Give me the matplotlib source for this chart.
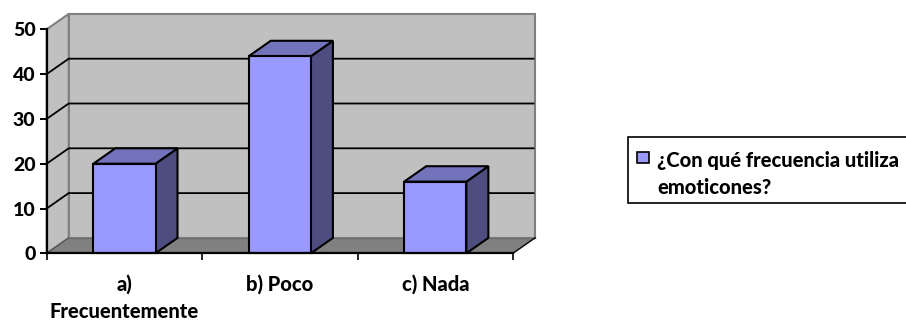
import matplotlib

matplotlib.use("Agg")
import matplotlib.pyplot as plt
from matplotlib.patches import Polygon, Rectangle

categories = ["a)\nFrecuentemente", "b) Poco", "c) Nada"]
values = [20, 44, 16]
y_ticks = [0, 10, 20, 30, 40, 50]
legend_label = "¿Con qué frecuencia utiliza\nemoticones?"

FRONT = "#9999FF"
TOP = "#7373BC"
SIDE = "#4D4D80"
WALL = "#C0C0C0"
FLOOR = "#808080"

W, H = 906, 320
LEFT, RIGHT, BOTTOM, UPPER = 46.7, 513, 253.3, 29.3

# depth of the fake 3D box, in data units
DX = 22 / ((RIGHT - LEFT) / 3)
DY = 15.4 / ((BOTTOM - UPPER) / 50)
BAR_W = 0.4

plt.rcParams["font.family"] = ["Lato", "DejaVu Sans"]
plt.rcParams["font.weight"] = "black"

fig = plt.figure(figsize=(W / 100, H / 100), dpi=100)
ax = fig.add_axes(
    [LEFT / W, 1 - BOTTOM / H, (RIGHT - LEFT) / W, (BOTTOM - UPPER) / H]
)
ax.set_xlim(0, 3)
ax.set_ylim(0, 50)
ax.patch.set_visible(False)


def poly(points, face, edge="none", lw=0.0, z=1):
    ax.add_patch(
        Polygon(
            points,
            closed=True,
            facecolor=face,
            edgecolor=edge,
            linewidth=lw,
            joinstyle="miter",
            clip_on=False,
            zorder=z,
        )
    )


# walls and floor
poly([(DX, DY), (3 + DX, DY), (3 + DX, 50 + DY), (DX, 50 + DY)], WALL, FLOOR, 1.5)
poly([(0, 0), (DX, DY), (DX, 50 + DY), (0, 50)], WALL, FLOOR, 1.5)
poly([(0, 0), (3, 0), (3 + DX, DY), (DX, DY)], FLOOR)
ax.plot([DX, 3 + DX], [DY, DY], color="#6E6E6E", lw=1.0, clip_on=False, zorder=1.5)
ax.plot([3, 3 + DX], [0, DY], color="black", lw=1.0, clip_on=False, zorder=1.5)
ax.plot([0, DX], [0, DY], color="#505050", lw=0.8, clip_on=False, zorder=1.5)

# gridlines run along the side wall, then across the back wall
for tick in y_ticks[1:-1]:
    ax.plot(
        [0, DX, 3 + DX - 0.01],
        [tick, tick + DY, tick + DY],
        color="black",
        lw=1.3,
        clip_on=False,
        zorder=2,
    )

# bars
for i, value in enumerate(values):
    x0 = i + 0.5 - BAR_W / 2
    x1 = i + 0.5 + BAR_W / 2
    poly([(x1, 0), (x1 + DX, DY), (x1 + DX, value + DY), (x1, value)], SIDE, "black", 1.5, 3)
    poly([(x0, value), (x1, value), (x1 + DX, value + DY), (x0 + DX, value + DY)], TOP, "black", 1.5, 3)
    poly([(x0, 0), (x1, 0), (x1, value), (x0, value)], FRONT, "black", 1.5, 3)

ax.spines["top"].set_visible(False)
ax.spines["right"].set_visible(False)
ax.spines["left"].set_linewidth(1.6)
ax.spines["bottom"].set_linewidth(1.6)
ax.spines["left"].set_zorder(4)
ax.spines["bottom"].set_zorder(4)

ax.set_yticks(y_ticks)
ax.set_xticks(range(4))
ax.set_xticklabels([])
ax.set_xticks([0.5, 1.5, 2.5], minor=True)
ax.set_xticklabels(categories, minor=True, linespacing=1.5, va="top")
ax.tick_params(axis="y", length=5, width=1.4, labelsize=14, pad=3)
ax.tick_params(axis="x", which="major", length=4.7, width=1.2)
ax.tick_params(axis="x", which="minor", length=0, labelsize=14.5, pad=15)

# legend box runs off the right side of the figure
fig.add_artist(
    Rectangle(
        (628 / W, 1 - 203 / H),
        300 / W,
        66 / H,
        transform=fig.transFigure,
        facecolor="white",
        edgecolor="black",
        linewidth=1.2,
    )
)
fig.add_artist(
    Rectangle(
        (636.5 / W, 1 - 163 / H),
        12 / W,
        11 / H,
        transform=fig.transFigure,
        facecolor=FRONT,
        edgecolor="black",
        linewidth=1.2,
    )
)
fig.text(
    657 / W,
    1 - 173.5 / H,
    legend_label,
    fontsize=14.5,
    va="center",
    ha="left",
    linespacing=1.5,
)

fig.savefig("out.png", dpi=100)
